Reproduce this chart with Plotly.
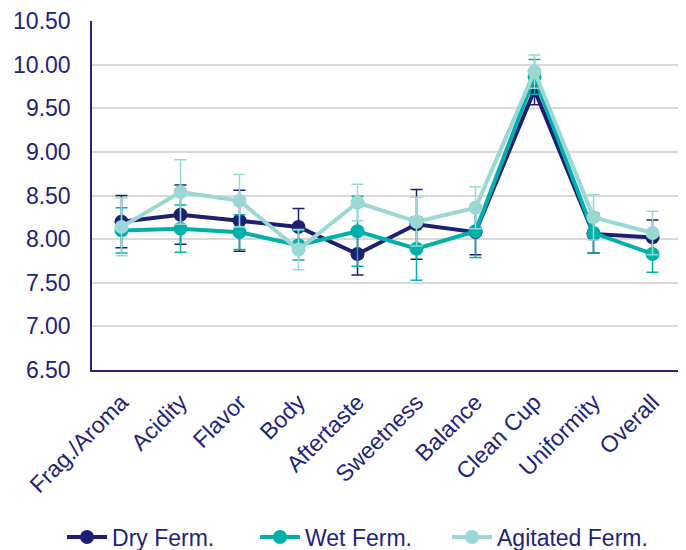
import plotly.graph_objects as go

categories = ["Frag./Aroma", "Acidity", "Flavor", "Body", "Aftertaste",
              "Sweetness", "Balance", "Clean Cup", "Uniformity", "Overall"]

dry = [8.20, 8.28, 8.21, 8.14, 7.83, 8.17, 8.08, 9.71, 8.06, 8.02]
dry_err = [0.30, 0.34, 0.35, 0.21, 0.24, 0.40, 0.26, 0.17, 0.22, 0.20]

wet = [8.10, 8.12, 8.08, 7.93, 8.09, 7.89, 8.09, 9.86, 8.07, 7.83]
wet_err = [0.26, 0.27, 0.20, 0.17, 0.40, 0.36, 0.30, 0.20, 0.23, 0.21]

agi = [8.14, 8.54, 8.44, 7.88, 8.42, 8.20, 8.36, 9.92, 8.25, 8.07]
agi_err = [0.33, 0.37, 0.30, 0.23, 0.21, 0.28, 0.24, 0.19, 0.26, 0.25]

series = [
    ("Dry Ferm.", dry, dry_err, "#1f1f72", "legend", -0.0508),
    ("Wet Ferm.", wet, wet_err, "#00b0aa", "legend2", 0.2763),
    ("Agitated Ferm.", agi, agi_err, "#9bd8d5", "legend3", 0.6017),
]

text_color = "#23237a"
font_family = "Liberation Sans, Arial, sans-serif"

fig = go.Figure()
for name, vals, err, col, leg, lx in series:
    fig.add_trace(go.Scatter(
        x=categories, y=vals, name=name, mode="lines+markers",
        line=dict(color=col, width=4),
        marker=dict(color=col, size=14),
        error_y=dict(type="data", array=err, visible=True,
                     color=col, thickness=1.5, width=6),
        legend=leg,
    ))

legend_common = dict(orientation="h", xanchor="left", y=-0.4785, yanchor="middle",
                     font=dict(size=23, color=text_color), itemwidth=40,
                     bgcolor="rgba(0,0,0,0)", borderwidth=0)

fig.update_layout(
    width=678, height=542,
    margin=dict(l=84, r=4, t=13, b=180, autoexpand=False),
    paper_bgcolor="white", plot_bgcolor="white",
    font=dict(family=font_family, color=text_color, size=23),
    showlegend=True,
    legend=dict(x=series[0][5], **legend_common),
    legend2=dict(x=series[1][5], **legend_common),
    legend3=dict(x=series[2][5], **legend_common),
    xaxis=dict(
        type="category", tickangle=-45, showgrid=False, automargin=False,
        showline=True, linecolor=text_color, linewidth=1.5,
        ticks="outside", ticklen=8, tickcolor="rgba(0,0,0,0)",
        tickfont=dict(size=23, color=text_color),
        range=[-0.5, 9.5],
    ),
    yaxis=dict(
        range=[6.5, 10.5], dtick=0.5, tickformat=".2f", automargin=False,
        showgrid=True, gridcolor="#d9d9d9", gridwidth=1.5,
        showline=True, linecolor=text_color, linewidth=1.5,
        zeroline=False, ticks="outside", ticklen=15, tickcolor="rgba(0,0,0,0)",
        tickfont=dict(size=23, color=text_color),
    ),
)

fig.write_html("out.html")
